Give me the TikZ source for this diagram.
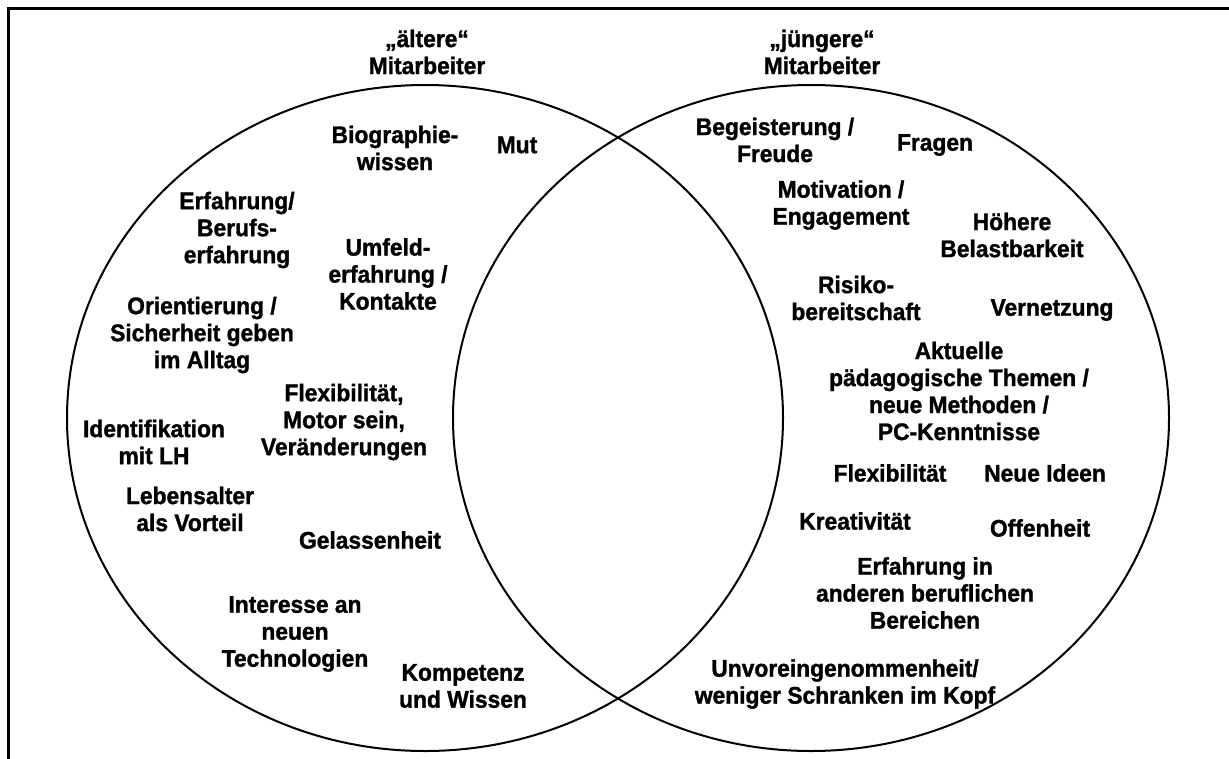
\documentclass[tikz,border=0pt]{standalone}
\usepackage{fontspec}
\setmainfont[FakeStretch=0.95, BoldFeatures={FakeBold=1.3}]{Liberation Sans}
\usetikzlibrary{shapes.geometric}
\tikzset{
  lbl/.style={align=center, inner sep=0pt, font=\fontsize{24}{27}\selectfont\bfseries},
  venn/.style={draw, ellipse, line width=2pt, minimum width=716pt, minimum height=666pt, inner sep=0pt},
  framestyle/.style={line width=3pt}
}
\begin{document}
\begin{tikzpicture}[x=1pt, y=-1pt]
\useasboundingbox (0,0) rectangle (1229,758);
\coordinate (fb) at (8,760);
\coordinate (fc) at (8,8);
\coordinate (fr) at (1231,8);
\draw[framestyle] (fb) -- (fc) -- (fr);
\node[venn] (L) at (425,418) {};
\node[venn] (R) at (811,418) {};
% left titles and items
\node[lbl] (t1) at (427,52) {„ältere“\\Mitarbeiter};
\node[lbl] (l1) at (395,148) {Biographie-\\wissen};
\node[lbl] (l2) at (517,145) {Mut};
\node[lbl] (l3) at (237,230) {Erfahrung/\\Berufs-\\erfahrung};
\node[lbl] (l4) at (388,274) {Umfeld-\\erfahrung /\\Kontakte};
\node[lbl] (l5) at (202,335) {Orientierung /\\Sicherheit geben\\im Alltag};
\node[lbl] (l6) at (344,422) {Flexibilität,\\Motor sein,\\Veränderungen};
\node[lbl] (l7) at (154,442) {Identifikation\\mit LH};
\node[lbl] (l8) at (190,509) {Lebensalter\\als Vorteil};
\node[lbl] (l9) at (370,540) {Gelassenheit};
\node[lbl] (l10) at (295,634) {Interesse an\\neuen\\Technologien};
\node[lbl] (l11) at (463,686) {Kompetenz\\und Wissen};
% right titles and items
\node[lbl] (t2) at (822,52) {„jüngere“\\Mitarbeiter};
\node[lbl] (r1) at (775,140) {Begeisterung /\\Freude};
\node[lbl] (r2) at (935,145) {Fragen};
\node[lbl] (r3) at (841,205) {Motivation /\\Engagement};
\node[lbl] (r4) at (1012,235) {Höhere\\Belastbarkeit};
\node[lbl] (r5) at (856,298) {Risiko-\\bereitschaft};
\node[lbl] (r6) at (1052,310) {Vernetzung};
\node[lbl] (r7) at (959,391) {Aktuelle\\pädagogische Themen /\\neue Methoden /\\PC-Kenntnisse};
\node[lbl] (r8) at (890,473) {Flexibilität};
\node[lbl] (r9) at (1045,473) {Neue Ideen};
\node[lbl] (r10) at (855,521) {Kreativität};
\node[lbl] (r11) at (1040,528) {Offenheit};
\node[lbl] (r12) at (925,593) {Erfahrung in\\anderen beruflichen\\Bereichen};
\node[lbl] (r13) at (845,684) {Unvoreingenommenheit/\\weniger Schranken im Kopf};
\end{tikzpicture}
\end{document}
